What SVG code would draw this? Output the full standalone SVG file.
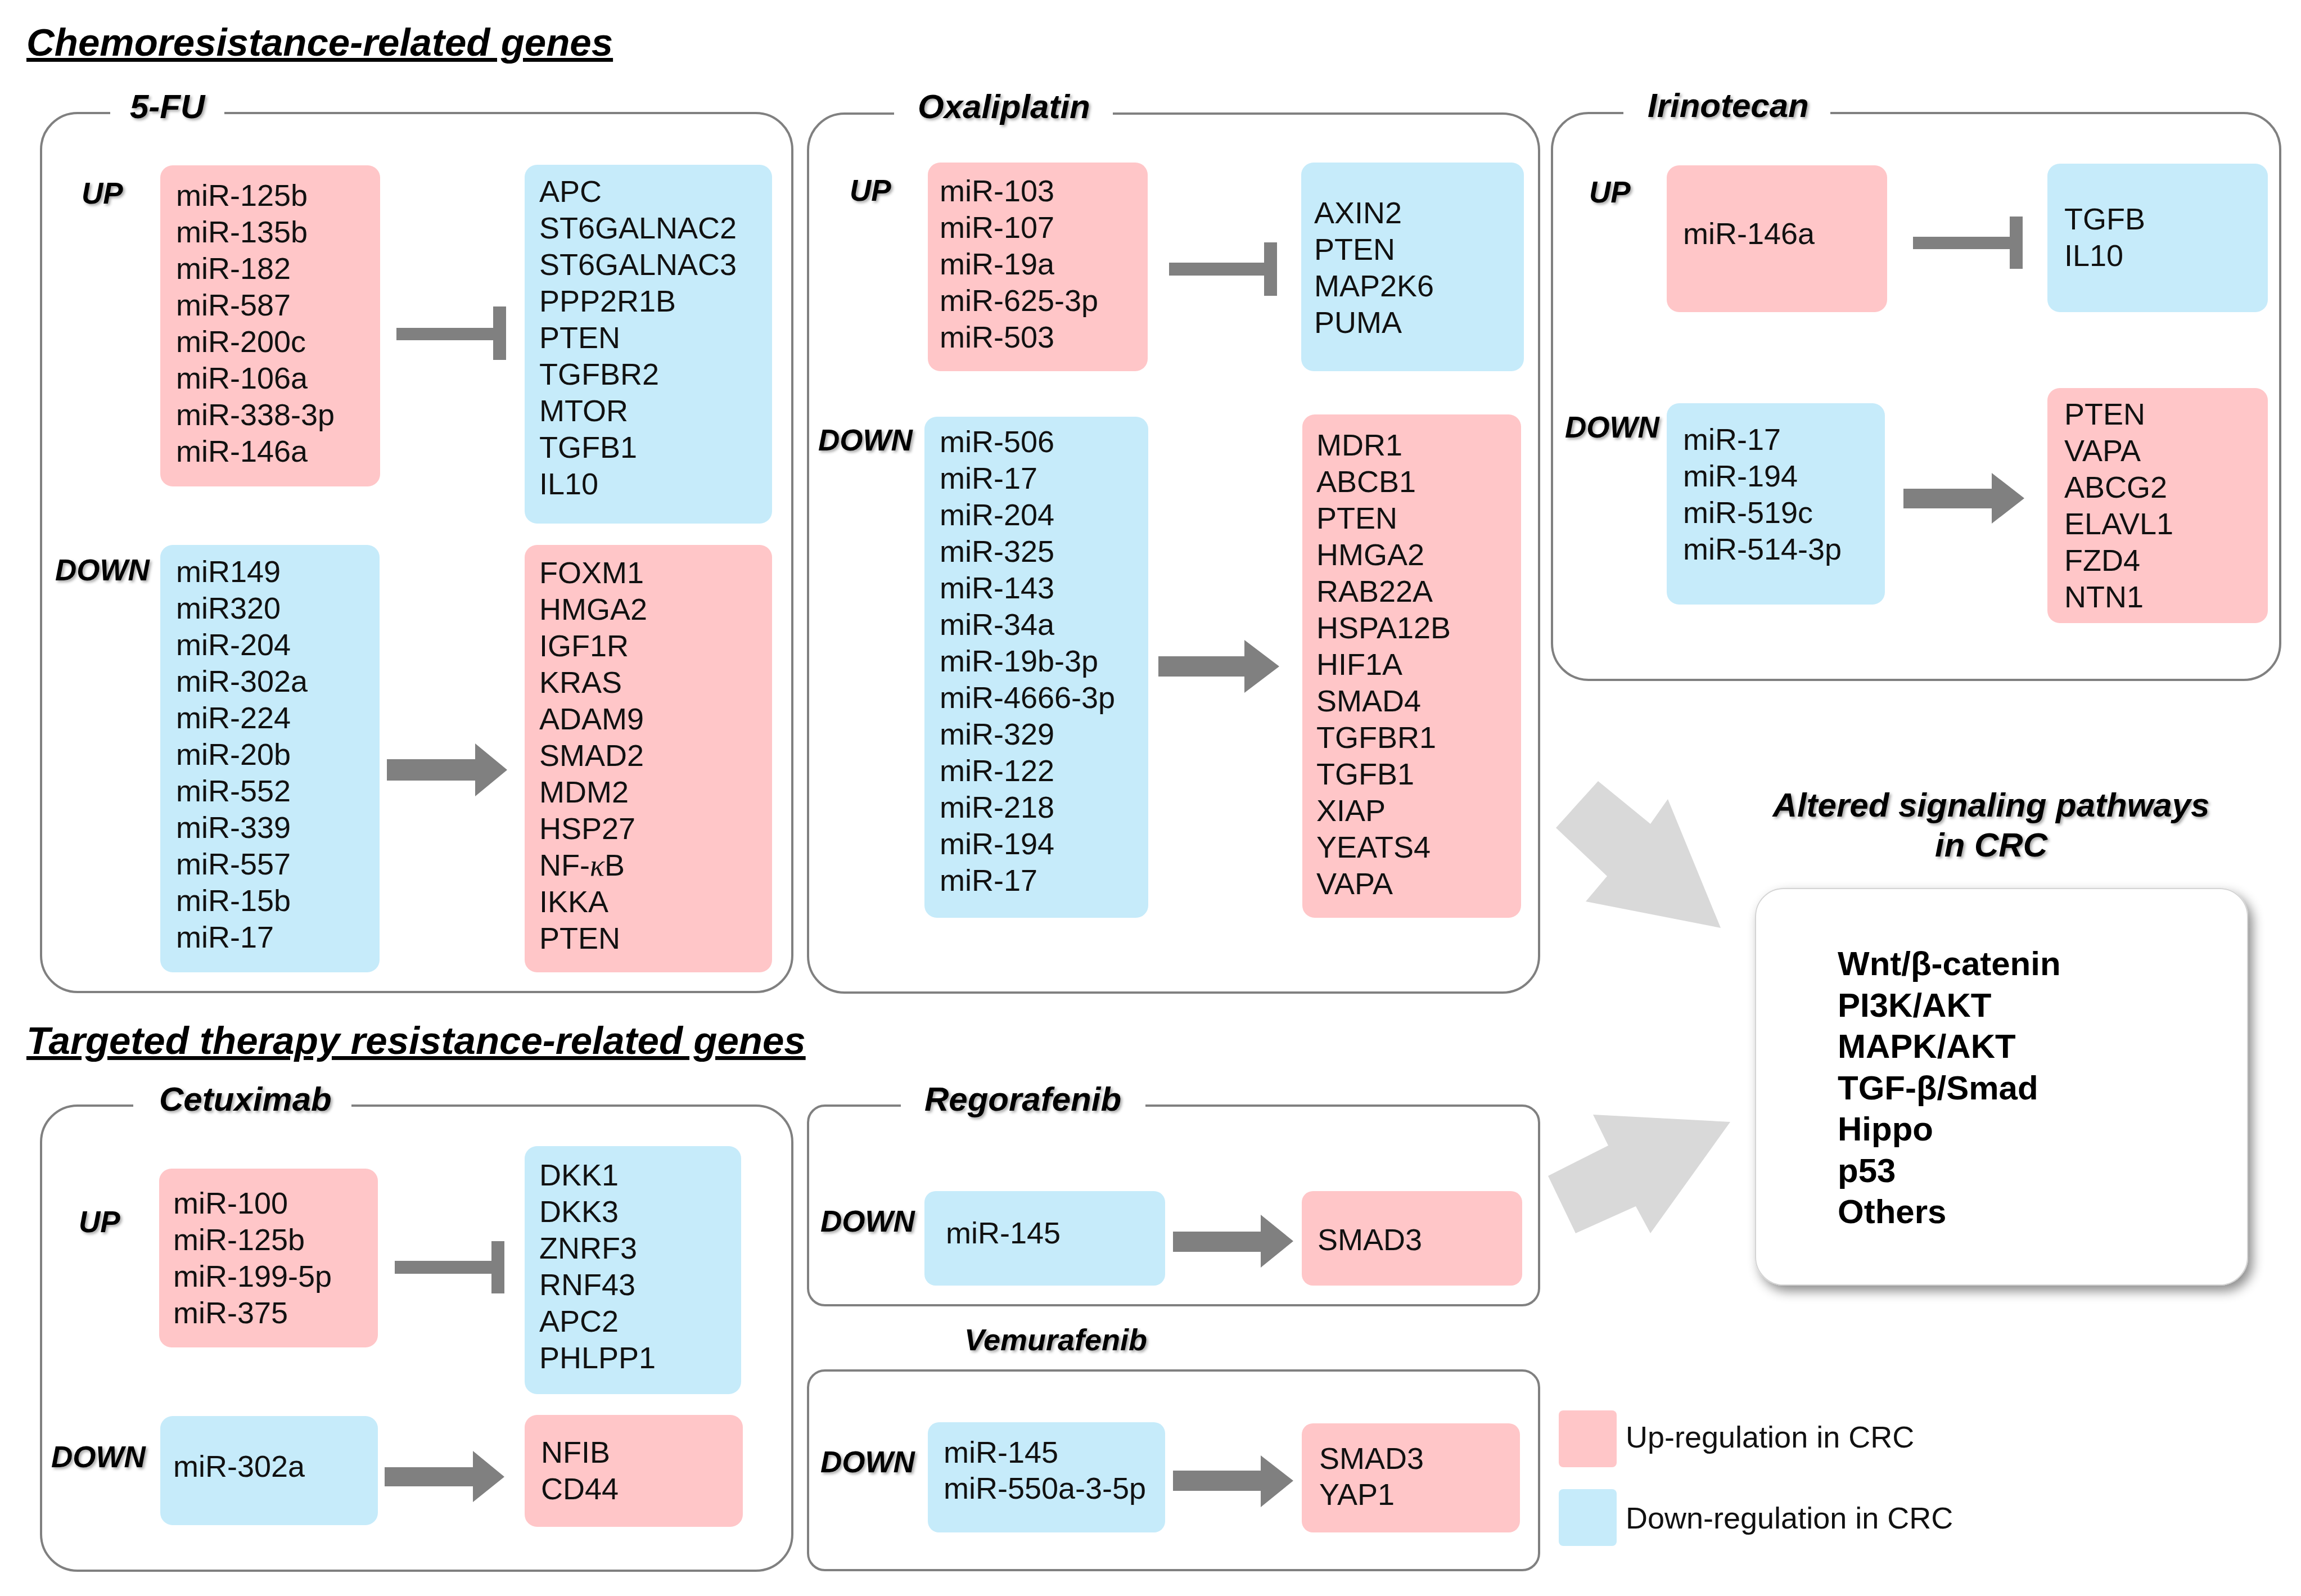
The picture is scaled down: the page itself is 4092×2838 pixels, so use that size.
<svg xmlns="http://www.w3.org/2000/svg" width="4092" height="2838" viewBox="0 0 4092 2838">
<defs>
<style>
.panel{fill:none;stroke:#808080;stroke-width:4}
.gap{fill:#ffffff}
.up{fill:#FFC6C8}
.dn{fill:#C6EBFA}
.t{font-family:"Liberation Sans",Arial,sans-serif;font-size:54px;fill:#111111}
.lab{font-family:"Liberation Sans",Arial,sans-serif;font-size:53px;font-weight:bold;font-style:italic;fill:#000000;filter:url(#ts)}
.drug{font-family:"Liberation Sans",Arial,sans-serif;font-size:60px;font-weight:bold;font-style:italic;fill:#000000;filter:url(#ts)}
.head{font-family:"Liberation Sans",Arial,sans-serif;font-size:69px;font-weight:bold;font-style:italic;fill:#000000;text-decoration:underline}
.pw{font-family:"Liberation Sans",Arial,sans-serif;font-size:60px;font-weight:bold;fill:#000000}
.conn{fill:#808080}
.big{fill:#D9D9D9}
.k{font-family:"Liberation Serif","Times New Roman",serif;font-style:italic}
</style>
<filter id="ts" x="-10%" y="-30%" width="130%" height="170%">
<feDropShadow dx="3" dy="3" stdDeviation="2.5" flood-color="#000000" flood-opacity="0.35"/>
</filter>
<filter id="bs" x="-10%" y="-10%" width="130%" height="130%">
<feDropShadow dx="8" dy="10" stdDeviation="10" flood-color="#000000" flood-opacity="0.45"/>
</filter>
</defs>
<rect x="0" y="0" width="4092" height="2838" fill="#ffffff"/>

<text class="head" x="47" y="99">Chemoresistance-related genes</text>
<text class="head" x="47" y="1874">Targeted therapy resistance-related genes</text>

<!-- 5-FU panel -->
<g id="panel-5fu">
<rect class="panel" x="73" y="201" width="1336" height="1563" rx="65"/>
<rect class="gap" x="196" y="180" width="203" height="45"/>
<text class="drug" x="231" y="210">5-FU</text>
<text class="lab" x="145" y="362">UP</text>
<text class="lab" x="98" y="1032">DOWN</text>
</g>
<g id="fu-up-mir">
<rect class="up" x="285" y="294" width="391" height="571" rx="22"/>
<text class="t" x="313" y="366"><tspan x="313">miR-125b</tspan><tspan x="313" dy="65">miR-135b</tspan><tspan x="313" dy="65">miR-182</tspan><tspan x="313" dy="65">miR-587</tspan><tspan x="313" dy="65">miR-200c</tspan><tspan x="313" dy="65">miR-106a</tspan><tspan x="313" dy="65">miR-338-3p</tspan><tspan x="313" dy="65">miR-146a</tspan></text>
</g>
<g id="fu-up-targets">
<rect class="dn" x="933" y="293" width="440" height="638" rx="22"/>
<text class="t" x="959" y="359"><tspan x="959">APC</tspan><tspan x="959" dy="65">ST6GALNAC2</tspan><tspan x="959" dy="65">ST6GALNAC3</tspan><tspan x="959" dy="65">PPP2R1B</tspan><tspan x="959" dy="65">PTEN</tspan><tspan x="959" dy="65">TGFBR2</tspan><tspan x="959" dy="65">MTOR</tspan><tspan x="959" dy="65">TGFB1</tspan><tspan x="959" dy="65">IL10</tspan></text>
</g>
<g id="fu-down-mir">
<rect class="dn" x="285" y="969" width="390" height="760" rx="22"/>
<text class="t" x="313" y="1035"><tspan x="313">miR149</tspan><tspan x="313" dy="65">miR320</tspan><tspan x="313" dy="65">miR-204</tspan><tspan x="313" dy="65">miR-302a</tspan><tspan x="313" dy="65">miR-224</tspan><tspan x="313" dy="65">miR-20b</tspan><tspan x="313" dy="65">miR-552</tspan><tspan x="313" dy="65">miR-339</tspan><tspan x="313" dy="65">miR-557</tspan><tspan x="313" dy="65">miR-15b</tspan><tspan x="313" dy="65">miR-17</tspan></text>
</g>
<g id="fu-down-targets">
<rect class="up" x="933" y="969" width="440" height="760" rx="22"/>
<text class="t" x="959" y="1037"><tspan x="959">FOXM1</tspan><tspan x="959" dy="65">HMGA2</tspan><tspan x="959" dy="65">IGF1R</tspan><tspan x="959" dy="65">KRAS</tspan><tspan x="959" dy="65">ADAM9</tspan><tspan x="959" dy="65">SMAD2</tspan><tspan x="959" dy="65">MDM2</tspan><tspan x="959" dy="65">HSP27</tspan><tspan x="959" dy="65">NF-<tspan class="k">κ</tspan>B</tspan><tspan x="959" dy="65">IKKA</tspan><tspan x="959" dy="65">PTEN</tspan></text>
</g>

<!-- Oxaliplatin panel -->
<g id="panel-oxaliplatin">
<rect class="panel" x="1437" y="202" width="1300" height="1563" rx="65"/>
<rect class="gap" x="1590" y="180" width="389" height="45"/>
<text class="drug" x="1632" y="210">Oxaliplatin</text>
<text class="lab" x="1511" y="357">UP</text>
<text class="lab" x="1455" y="801">DOWN</text>
</g>
<g id="ox-up-mir">
<rect class="up" x="1650" y="289" width="391" height="371" rx="22"/>
<text class="t" x="1671" y="358"><tspan x="1671">miR-103</tspan><tspan x="1671" dy="65">miR-107</tspan><tspan x="1671" dy="65">miR-19a</tspan><tspan x="1671" dy="65">miR-625-3p</tspan><tspan x="1671" dy="65">miR-503</tspan></text>
</g>
<g id="ox-up-targets">
<rect class="dn" x="2314" y="289" width="396" height="371" rx="22"/>
<text class="t" x="2337" y="397"><tspan x="2337">AXIN2</tspan><tspan x="2337" dy="65">PTEN</tspan><tspan x="2337" dy="65">MAP2K6</tspan><tspan x="2337" dy="65">PUMA</tspan></text>
</g>
<g id="ox-down-mir">
<rect class="dn" x="1644" y="741" width="398" height="891" rx="22"/>
<text class="t" x="1671" y="804"><tspan x="1671">miR-506</tspan><tspan x="1671" dy="65">miR-17</tspan><tspan x="1671" dy="65">miR-204</tspan><tspan x="1671" dy="65">miR-325</tspan><tspan x="1671" dy="65">miR-143</tspan><tspan x="1671" dy="65">miR-34a</tspan><tspan x="1671" dy="65">miR-19b-3p</tspan><tspan x="1671" dy="65">miR-4666-3p</tspan><tspan x="1671" dy="65">miR-329</tspan><tspan x="1671" dy="65">miR-122</tspan><tspan x="1671" dy="65">miR-218</tspan><tspan x="1671" dy="65">miR-194</tspan><tspan x="1671" dy="65">miR-17</tspan></text>
</g>
<g id="ox-down-targets">
<rect class="up" x="2316" y="737" width="389" height="895" rx="22"/>
<text class="t" x="2341" y="810"><tspan x="2341">MDR1</tspan><tspan x="2341" dy="65">ABCB1</tspan><tspan x="2341" dy="65">PTEN</tspan><tspan x="2341" dy="65">HMGA2</tspan><tspan x="2341" dy="65">RAB22A</tspan><tspan x="2341" dy="65">HSPA12B</tspan><tspan x="2341" dy="65">HIF1A</tspan><tspan x="2341" dy="65">SMAD4</tspan><tspan x="2341" dy="65">TGFBR1</tspan><tspan x="2341" dy="65">TGFB1</tspan><tspan x="2341" dy="65">XIAP</tspan><tspan x="2341" dy="65">YEATS4</tspan><tspan x="2341" dy="65">VAPA</tspan></text>
</g>

<!-- Irinotecan panel -->
<g id="panel-irinotecan">
<rect class="panel" x="2760" y="201" width="1295" height="1008" rx="65"/>
<rect class="gap" x="2887" y="180" width="368" height="45"/>
<text class="drug" x="2930" y="208">Irinotecan</text>
<text class="lab" x="2826" y="360">UP</text>
<text class="lab" x="2783" y="778">DOWN</text>
</g>
<g id="iri-up-mir">
<rect class="up" x="2964" y="294" width="392" height="261" rx="22"/>
<text class="t" x="2993" y="434">miR-146a</text>
</g>
<g id="iri-up-targets">
<rect class="dn" x="3641" y="291" width="392" height="264" rx="22"/>
<text class="t" x="3671" y="408"><tspan x="3671">TGFB</tspan><tspan x="3671" dy="65">IL10</tspan></text>
</g>
<g id="iri-down-mir">
<rect class="dn" x="2964" y="717" width="388" height="358" rx="22"/>
<text class="t" x="2993" y="800"><tspan x="2993">miR-17</tspan><tspan x="2993" dy="65">miR-194</tspan><tspan x="2993" dy="65">miR-519c</tspan><tspan x="2993" dy="65">miR-514-3p</tspan></text>
</g>
<g id="iri-down-targets">
<rect class="up" x="3641" y="690" width="392" height="418" rx="22"/>
<text class="t" x="3671" y="755"><tspan x="3671">PTEN</tspan><tspan x="3671" dy="65">VAPA</tspan><tspan x="3671" dy="65">ABCG2</tspan><tspan x="3671" dy="65">ELAVL1</tspan><tspan x="3671" dy="65">FZD4</tspan><tspan x="3671" dy="65">NTN1</tspan></text>
</g>

<!-- Cetuximab panel -->
<g id="panel-cetuximab">
<rect class="panel" x="73" y="1966" width="1336" height="827" rx="65"/>
<rect class="gap" x="237" y="1945" width="388" height="45"/>
<text class="drug" x="283" y="1975">Cetuximab</text>
<text class="lab" x="140" y="2191">UP</text>
<text class="lab" x="91" y="2609">DOWN</text>
</g>
<g id="cet-up-mir">
<rect class="up" x="283" y="2078" width="389" height="318" rx="22"/>
<text class="t" x="308" y="2158"><tspan x="308">miR-100</tspan><tspan x="308" dy="65">miR-125b</tspan><tspan x="308" dy="65">miR-199-5p</tspan><tspan x="308" dy="65">miR-375</tspan></text>
</g>
<g id="cet-up-targets">
<rect class="dn" x="933" y="2038" width="385" height="441" rx="22"/>
<text class="t" x="959" y="2108"><tspan x="959">DKK1</tspan><tspan x="959" dy="65">DKK3</tspan><tspan x="959" dy="65">ZNRF3</tspan><tspan x="959" dy="65">RNF43</tspan><tspan x="959" dy="65">APC2</tspan><tspan x="959" dy="65">PHLPP1</tspan></text>
</g>
<g id="cet-down-mir">
<rect class="dn" x="285" y="2518" width="387" height="194" rx="22"/>
<text class="t" x="308" y="2626">miR-302a</text>
</g>
<g id="cet-down-targets">
<rect class="up" x="933" y="2516" width="388" height="199" rx="22"/>
<text class="t" x="962" y="2601"><tspan x="962">NFIB</tspan><tspan x="962" dy="65">CD44</tspan></text>
</g>

<!-- Regorafenib panel -->
<g id="panel-regorafenib">
<rect class="panel" x="1437" y="1966" width="1300" height="355" rx="30"/>
<rect class="gap" x="1602" y="1945" width="435" height="45"/>
<text class="drug" x="1644" y="1975">Regorafenib</text>
<text class="lab" x="1459" y="2190">DOWN</text>
</g>
<g id="reg-mir">
<rect class="dn" x="1644" y="2118" width="428" height="168" rx="20"/>
<text class="t" x="1682" y="2211">miR-145</text>
</g>
<g id="reg-target">
<rect class="up" x="2315" y="2118" width="392" height="168" rx="20"/>
<text class="t" x="2343" y="2223">SMAD3</text>
</g>

<!-- Vemurafenib panel -->
<g id="panel-vemurafenib">
<text class="drug" x="1715" y="2401" style="font-size:54px">Vemurafenib</text>
<rect class="panel" x="1437" y="2437" width="1300" height="355" rx="30"/>
<text class="lab" x="1459" y="2618">DOWN</text>
</g>
<g id="vem-mir">
<rect class="dn" x="1650" y="2529" width="422" height="196" rx="20"/>
<text class="t" x="1678" y="2601"><tspan x="1678">miR-145</tspan><tspan x="1678" dy="64">miR-550a-3-5p</tspan></text>
</g>
<g id="vem-target">
<rect class="up" x="2315" y="2531" width="388" height="194" rx="20"/>
<text class="t" x="2346" y="2612"><tspan x="2346">SMAD3</tspan><tspan x="2346" dy="64">YAP1</tspan></text>
</g>

<!-- Pathways box -->
<g id="pathways">
<text class="drug" x="3541" y="1452" text-anchor="middle">Altered signaling pathways</text>
<text class="drug" x="3541" y="1523" text-anchor="middle">in CRC</text>
<rect x="3122" y="1580" width="875" height="705" rx="50" fill="#ffffff" stroke="#d4d4d4" stroke-width="2" filter="url(#bs)"/>
<text class="pw" x="3268" y="1734"><tspan x="3268">Wnt/β-catenin</tspan><tspan x="3268" dy="73.5">PI3K/AKT</tspan><tspan x="3268" dy="73.5">MAPK/AKT</tspan><tspan x="3268" dy="73.5">TGF-β/Smad</tspan><tspan x="3268" dy="73.5">Hippo</tspan><tspan x="3268" dy="73.5">p53</tspan><tspan x="3268" dy="73.5">Others</tspan></text>
</g>

<!-- Legend -->
<g id="legend">
<rect class="up" x="2772" y="2508" width="103" height="101" rx="8"/>
<text class="t" x="2891" y="2574">Up-regulation in CRC</text>
<rect class="dn" x="2772" y="2648" width="103" height="101" rx="8"/>
<text class="t" x="2891" y="2718">Down-regulation in CRC</text>
</g>

<!-- Connectors -->
<g id="connectors">
<path class="conn" d="M705,583 H877 V545 H900 V640 H877 V605 H705 Z"/>
<path class="conn" d="M688,1350 H845 V1322 L902,1369 L845,1416 V1388 H688 Z"/>
<path class="conn" d="M2079,467 H2248 V431 H2271 V526 H2248 V490 H2079 Z"/>
<path class="conn" d="M2060,1167 H2213 V1138 L2275,1185 L2213,1232 V1203 H2060 Z"/>
<path class="conn" d="M3402,421 H3574 V385 H3597 V478 H3574 V443 H3402 Z"/>
<path class="conn" d="M3385,869 H3542 V841 L3600,886 L3542,931 V904 H3385 Z"/>
<path class="conn" d="M702,2242 H874 V2207 H897 V2300 H874 V2265 H702 Z"/>
<path class="conn" d="M684,2609 H841 V2580 L897,2626 L841,2671 V2643 H684 Z"/>
<path class="conn" d="M2086,2190 H2242 V2160 L2300,2207 L2242,2254 V2226 H2086 Z"/>
<path class="conn" d="M2086,2615 H2242 V2588 L2300,2633 L2242,2680 V2651 H2086 Z"/>
<polygon class="big" points="2842,1389 2935,1465 2966,1421 3060,1650 2820,1603 2858,1558 2767,1472"/>
<polygon class="big" points="2753,2091 2860,2037 2833,1982 3077,1995 2935,2193 2909,2145 2802,2193"/>
</g>
</svg>
